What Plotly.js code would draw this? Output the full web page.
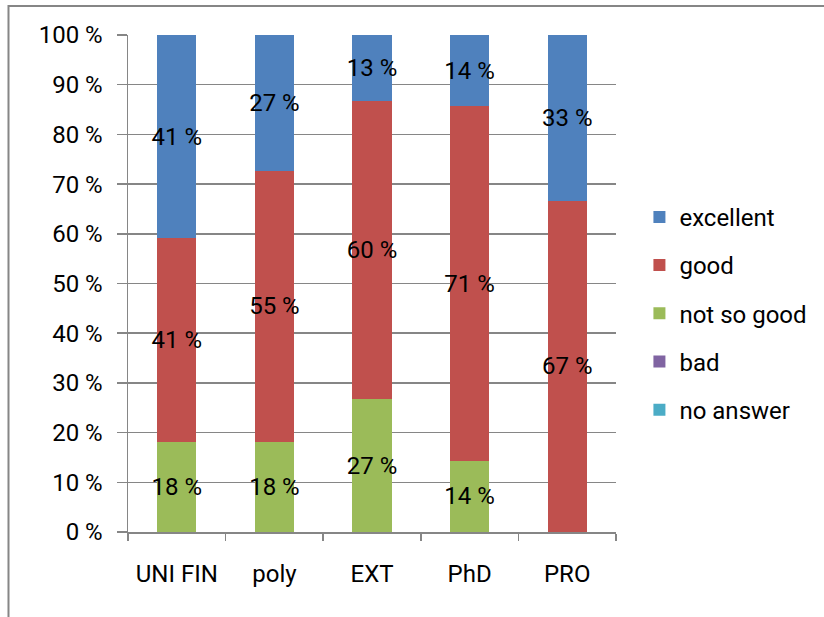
<!DOCTYPE html>
<html>
<head>
<meta charset="utf-8">
<script src="https://cdn.plot.ly/plotly-3.0.1.min.js"></script>
<style>
html,body{margin:0;padding:0;background:#fff;}
#chart{width:824px;height:617px;}
</style>
</head>
<body>
<div id="chart"></div>
<script>
var categories = ["UNI FIN", "poly", "EXT", "PhD", "PRO"];
var seriesNames = ["no answer", "bad", "not so good", "good", "excellent"];
var noAnswer = [0, 0, 0, 0, 0];
var bad = [0, 0, 0, 0, 0];
var notSoGood = [18.2, 18.2, 26.7, 14.3, 0];
var good = [40.9, 54.5, 60.0, 71.4, 66.7];
var excellent = [40.9, 27.3, 13.3, 14.3, 33.3];
var seriesColors = ["#4BACC6", "#8064A2", "#9BBB59", "#C0504D", "#4F81BD"];
var yTickVals = [0, 10, 20, 30, 40, 50, 60, 70, 80, 90, 100];
var yTickText = yTickVals.map(function(v){ return v + " %"; });

var seriesValues = [noAnswer, bad, notSoGood, good, excellent];
var FONT = "Roboto, 'Liberation Sans', Arial, sans-serif";

var traces = seriesValues.map(function(vals, i){
  return {
    type: "bar",
    name: seriesNames[i],
    legendgroup: seriesNames[i],
    legendrank: 1000 - i,
    x: categories,
    y: vals,
    marker: {color: seriesColors[i], line: {width: 0}},
    text: vals.map(function(v){ return v > 0 ? Math.round(v) + " %" : ""; }),
    textposition: "inside",
    insidetextanchor: "middle",
    constraintext: "none",
    textangle: 0,
    textfont: {family: FONT, size: 24, color: "#000000"},
    hoverinfo: "skip"
  };
});

var layout = {
  width: 824,
  height: 617,
  barmode: "stack",
  bargap: 0.6,
  paper_bgcolor: "#ffffff",
  plot_bgcolor: "#ffffff",
  font: {family: FONT, size: 24, color: "#000000"},
  margin: {l: 128, r: 206, t: 35, b: 85, pad: 0},
  showlegend: true,
  hovermode: false,
  xaxis: {
    type: "category",
    showline: true,
    linecolor: "#868686",
    linewidth: 1.5,
    ticks: "outside",
    tickson: "boundaries",
    ticklen: 7,
    tickwidth: 1.5,
    tickcolor: "#868686",
    showgrid: false,
    ticklabelstandoff: 20,
    tickfont: {family: FONT, size: 24, color: "#000000"}
  },
  yaxis: {
    range: [0, 100],
    tickvals: yTickVals,
    ticktext: yTickText,
    showline: true,
    linecolor: "#868686",
    linewidth: 1.5,
    ticks: "outside",
    ticklen: 10,
    tickwidth: 1.5,
    tickcolor: "#868686",
    showgrid: true,
    gridcolor: "#868686",
    gridwidth: 1.5,
    zeroline: false,
    ticklabelstandoff: 9,
    tickfont: {family: FONT, size: 24, color: "#000000"}
  },
  legend: {
    x: 1.048,
    xanchor: "left",
    y: 0.44,
    yanchor: "middle",
    traceorder: "grouped",
    tracegroupgap: 14,
    font: {family: FONT, size: 24, color: "#000000"},
    bgcolor: "rgba(0,0,0,0)",
    borderwidth: 0
  },
  shapes: [{
    type: "rect",
    xref: "paper", yref: "paper",
    x0: -0.2449, x1: 1.45, y0: -0.2, y1: 1.0584,
    line: {color: "#868686", width: 2},
    fillcolor: "rgba(0,0,0,0)",
    layer: "below"
  }]
};

Plotly.newPlot("chart", traces, layout, {staticPlot: true, displayModeBar: false});
</script>
</body>
</html>
